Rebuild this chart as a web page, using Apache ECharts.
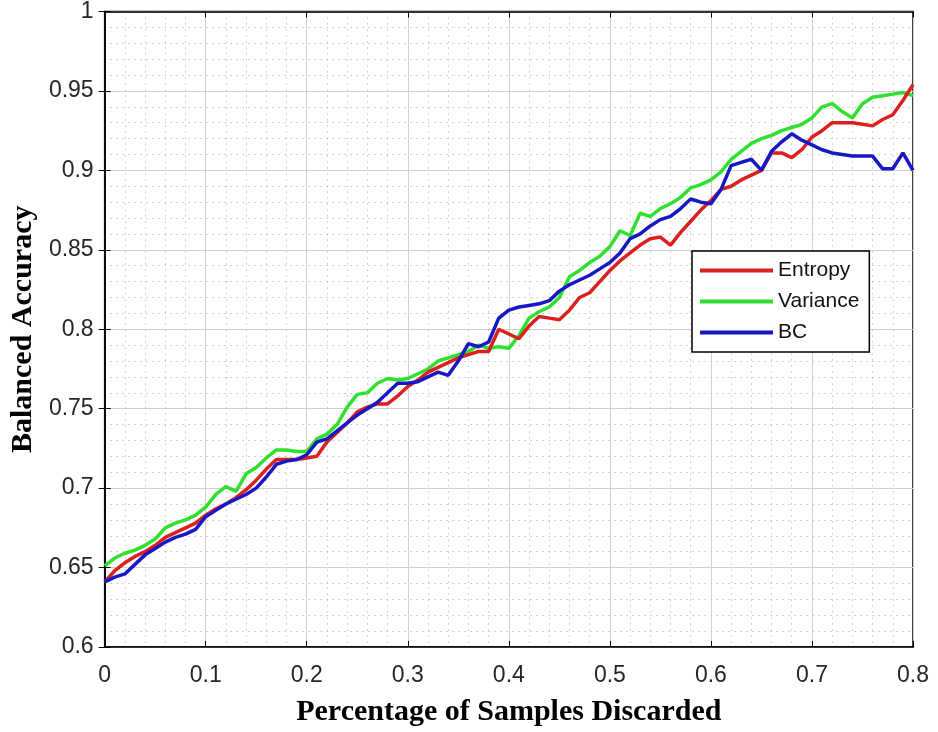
<!DOCTYPE html>
<html>
<head>
<meta charset="utf-8">
<script src="https://cdn.jsdelivr.net/npm/echarts@6/dist/echarts.min.js"></script>
<style>
  html, body { margin: 0; padding: 0; background: #fff; }
  #chart { width: 938px; height: 732px; }
</style>
</head>
<body>
<div id="chart"></div>
<script>
// fraction of samples discarded (x axis)
const discarded = [
  0.00, 0.01, 0.02, 0.03, 0.04, 0.05, 0.06, 0.07, 0.08, 0.09,
  0.10, 0.11, 0.12, 0.13, 0.14, 0.15, 0.16, 0.17, 0.18, 0.19,
  0.20, 0.21, 0.22, 0.23, 0.24, 0.25, 0.26, 0.27, 0.28, 0.29,
  0.30, 0.31, 0.32, 0.33, 0.34, 0.35, 0.36, 0.37, 0.38, 0.39,
  0.40, 0.41, 0.42, 0.43, 0.44, 0.45, 0.46, 0.47, 0.48, 0.49,
  0.50, 0.51, 0.52, 0.53, 0.54, 0.55, 0.56, 0.57, 0.58, 0.59,
  0.60, 0.61, 0.62, 0.63, 0.64, 0.65, 0.66, 0.67, 0.68, 0.69,
  0.70, 0.71, 0.72, 0.73, 0.74, 0.75, 0.76, 0.77, 0.78, 0.79,
  0.80
];

const entropy = [
  0.641, 0.648, 0.653, 0.657, 0.660, 0.664, 0.669, 0.672, 0.675, 0.678,
  0.683, 0.687, 0.690, 0.694, 0.699, 0.705, 0.712, 0.718, 0.718, 0.718,
  0.719, 0.720, 0.729, 0.735, 0.741, 0.748, 0.751, 0.753, 0.753, 0.758,
  0.764, 0.768, 0.773, 0.776, 0.779, 0.782, 0.784, 0.786, 0.786, 0.800,
  0.797, 0.794, 0.802, 0.808, 0.807, 0.806, 0.812, 0.820, 0.823, 0.830,
  0.837, 0.843, 0.848, 0.853, 0.857, 0.858, 0.853, 0.861, 0.868, 0.875,
  0.881, 0.888, 0.890, 0.894, 0.897, 0.900, 0.911, 0.911, 0.908, 0.913,
  0.921, 0.925, 0.930, 0.930, 0.930, 0.929, 0.928, 0.932, 0.935, 0.944,
  0.954
];

const variance = [
  0.651, 0.656, 0.659, 0.661, 0.664, 0.668, 0.675, 0.678, 0.680, 0.683,
  0.688, 0.696, 0.701, 0.698, 0.709, 0.713, 0.719, 0.724, 0.724, 0.723,
  0.723, 0.731, 0.734, 0.740, 0.751, 0.759, 0.760, 0.766, 0.769, 0.768,
  0.769, 0.772, 0.775, 0.780, 0.782, 0.784, 0.786, 0.790, 0.788, 0.789,
  0.788, 0.796, 0.807, 0.811, 0.814, 0.820, 0.833, 0.837, 0.842, 0.846,
  0.852, 0.862, 0.859, 0.873, 0.871, 0.876, 0.879, 0.883, 0.889, 0.891,
  0.894, 0.899, 0.907, 0.912, 0.917, 0.920, 0.922, 0.925, 0.927, 0.929,
  0.933, 0.940, 0.942, 0.937, 0.933, 0.942, 0.946, 0.947, 0.948, 0.949,
  0.947
];

const bc = [
  0.641, 0.644, 0.646, 0.652, 0.658, 0.662, 0.666, 0.669, 0.671, 0.674,
  0.682, 0.686, 0.690, 0.693, 0.696, 0.700, 0.707, 0.715, 0.717, 0.718,
  0.721, 0.729, 0.731, 0.736, 0.741, 0.746, 0.750, 0.754, 0.760, 0.766,
  0.766, 0.767, 0.770, 0.773, 0.771, 0.780, 0.791, 0.789, 0.792, 0.807,
  0.812, 0.814, 0.815, 0.816, 0.818, 0.824, 0.828, 0.831, 0.834, 0.838,
  0.842, 0.848, 0.857, 0.860, 0.865, 0.869, 0.871, 0.876, 0.882, 0.880,
  0.879, 0.888, 0.903, 0.905, 0.907, 0.900, 0.912, 0.918, 0.923, 0.919,
  0.916, 0.913, 0.911, 0.910, 0.909, 0.909, 0.909, 0.901, 0.901, 0.911,
  0.900
];

const chart = echarts.init(document.getElementById("chart"));

const pairs = (ys) => discarded.map((x, i) => [x, ys[i]]);

const gridLine = { show: true, lineStyle: { color: "#d0d0d0", width: 1 } };
const minorLine = { show: true, lineStyle: { color: "#a8a8a8", width: 1, type: [1, 5] } };
const tick = { show: true, inside: true, length: 6, lineStyle: { color: "#000", width: 1 } };
const labelFont = { color: "#262626", fontSize: 23, fontFamily: "Liberation Sans, Arial, sans-serif" };
const titleFont = { color: "#000", fontSize: 30, fontWeight: "bold", fontFamily: "Liberation Serif, Times New Roman, serif" };

const option = {
  backgroundColor: "#fff",
  animation: false,
  grid: {
    left: 103, top: 9, right: 25, bottom: 82,
    show: true, borderColor: "#000", borderWidth: 1.5,
  },
  legend: {
    orient: "vertical",
    left: 692, top: 251,
    padding: [9, 10, 9, 8],
    itemGap: 10,
    itemWidth: 73,
    itemHeight: 4,
    icon: "rect",
    backgroundColor: "#fff",
    borderColor: "#000",
    borderWidth: 1.5,
    borderRadius: 0,
    textStyle: { color: "#111", fontSize: 21, fontFamily: "Liberation Sans, Arial, sans-serif" },
    data: ["Entropy", "Variance", "BC"],
  },
  xAxis: [
    {
      type: "value", min: 0, max: 0.8, interval: 0.1,
      name: "Percentage of Samples Discarded",
      nameLocation: "middle", nameGap: 50, nameTextStyle: titleFont,
      axisLine: { show: true, onZero: false, lineStyle: { color: "#000", width: 1.5 } },
      axisTick: tick,
      axisLabel: { ...labelFont, margin: 17 },
      splitLine: gridLine,
      minorTick: { show: false, splitNumber: 5 },
      minorSplitLine: minorLine,
    },
    {
      type: "value", min: 0, max: 0.8, interval: 0.1, position: "top",
      axisLine: { show: true, lineStyle: { color: "#000", width: 1.5 } },
      axisTick: tick, axisLabel: { show: false }, splitLine: { show: false },
    },
  ],
  yAxis: [
    {
      type: "value", min: 0.6, max: 1, interval: 0.05,
      name: "Balanced Accuracy",
      nameLocation: "middle", nameGap: 66, nameTextStyle: titleFont,
      axisLine: { show: true, onZero: false, lineStyle: { color: "#000", width: 1.5 } },
      axisTick: tick,
      axisLabel: { ...labelFont, margin: 11 },
      splitLine: gridLine,
      minorTick: { show: false, splitNumber: 5 },
      minorSplitLine: minorLine,
    },
    {
      type: "value", min: 0.6, max: 1, interval: 0.05, position: "right",
      axisLine: { show: true, lineStyle: { color: "#000", width: 1.5 } },
      axisTick: tick, axisLabel: { show: false }, splitLine: { show: false },
    },
  ],
  series: [
    {
      name: "Entropy", type: "line", data: pairs(entropy),
      showSymbol: false, lineStyle: { color: "#dc1f1f", width: 3.5 }, itemStyle: { color: "#dc1f1f" },
      z: 3,
    },
    {
      name: "Variance", type: "line", data: pairs(variance),
      showSymbol: false, lineStyle: { color: "#2fe02f", width: 3.5 }, itemStyle: { color: "#2fe02f" },
      z: 2,
    },
    {
      name: "BC", type: "line", data: pairs(bc),
      showSymbol: false, lineStyle: { color: "#1717c4", width: 3.5 }, itemStyle: { color: "#1717c4" },
      z: 4,
    },
  ],
};

chart.setOption(option);
window.addEventListener("resize", () => chart.resize());
</script>
</body>
</html>
